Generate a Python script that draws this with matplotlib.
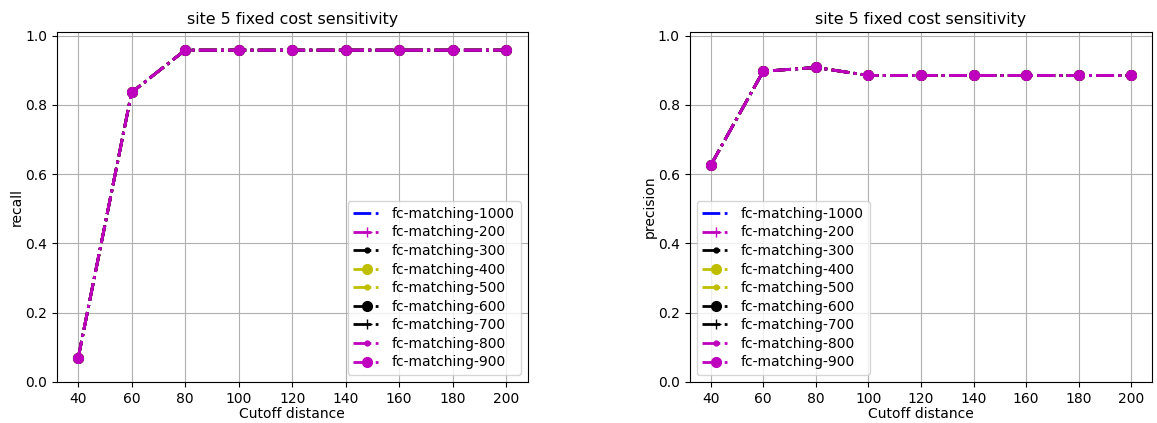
import matplotlib
matplotlib.use("Agg")
import matplotlib.pyplot as plt

# ---------------- DATA ----------------

cutoff = [40, 60, 80, 100, 120, 140, 160, 180, 200]
recall = [0.068, 0.836, 0.958, 0.958, 0.958, 0.958, 0.958, 0.958, 0.958]
precision = [0.625, 0.897, 0.908, 0.885, 0.885, 0.885, 0.885, 0.885, 0.885]

labels = ["fc-matching-1000", "fc-matching-200", "fc-matching-300",
          "fc-matching-400", "fc-matching-500", "fc-matching-600",
          "fc-matching-700", "fc-matching-800", "fc-matching-900"]
styles = ["b-.", "m+-.", "k.-.", "yo-.", "y.-.", "ko-.", "k+-.", "m.-.", "mo-."]

# ---------------- PLOT ----------------

fig = plt.figure(figsize=(11.57, 4.23), dpi=100)
ax1 = fig.add_axes([0.049, 0.097, 0.407, 0.827])
ax2 = fig.add_axes([0.596, 0.097, 0.400, 0.827])

for ax, values, ylabel, loc in [(ax1, recall, "recall", "lower right"),
                                (ax2, precision, "precision", "lower left")]:
    for lab, st in zip(labels, styles):
        ax.plot(cutoff, values, st, label=lab, linewidth=2, markersize=7)
    ax.set_title("site 5 fixed cost sensitivity", fontsize=11.4)
    ax.set_xlabel("Cutoff distance", labelpad=1)
    ax.set_ylabel(ylabel, labelpad=1)
    ax.set_xticks(cutoff)
    ax.set_ylim(0, 1.01)
    ax.grid(True)
    ax.legend(loc=loc, fontsize=10, labelspacing=0.33)

fig.savefig("out.png", dpi=100)
